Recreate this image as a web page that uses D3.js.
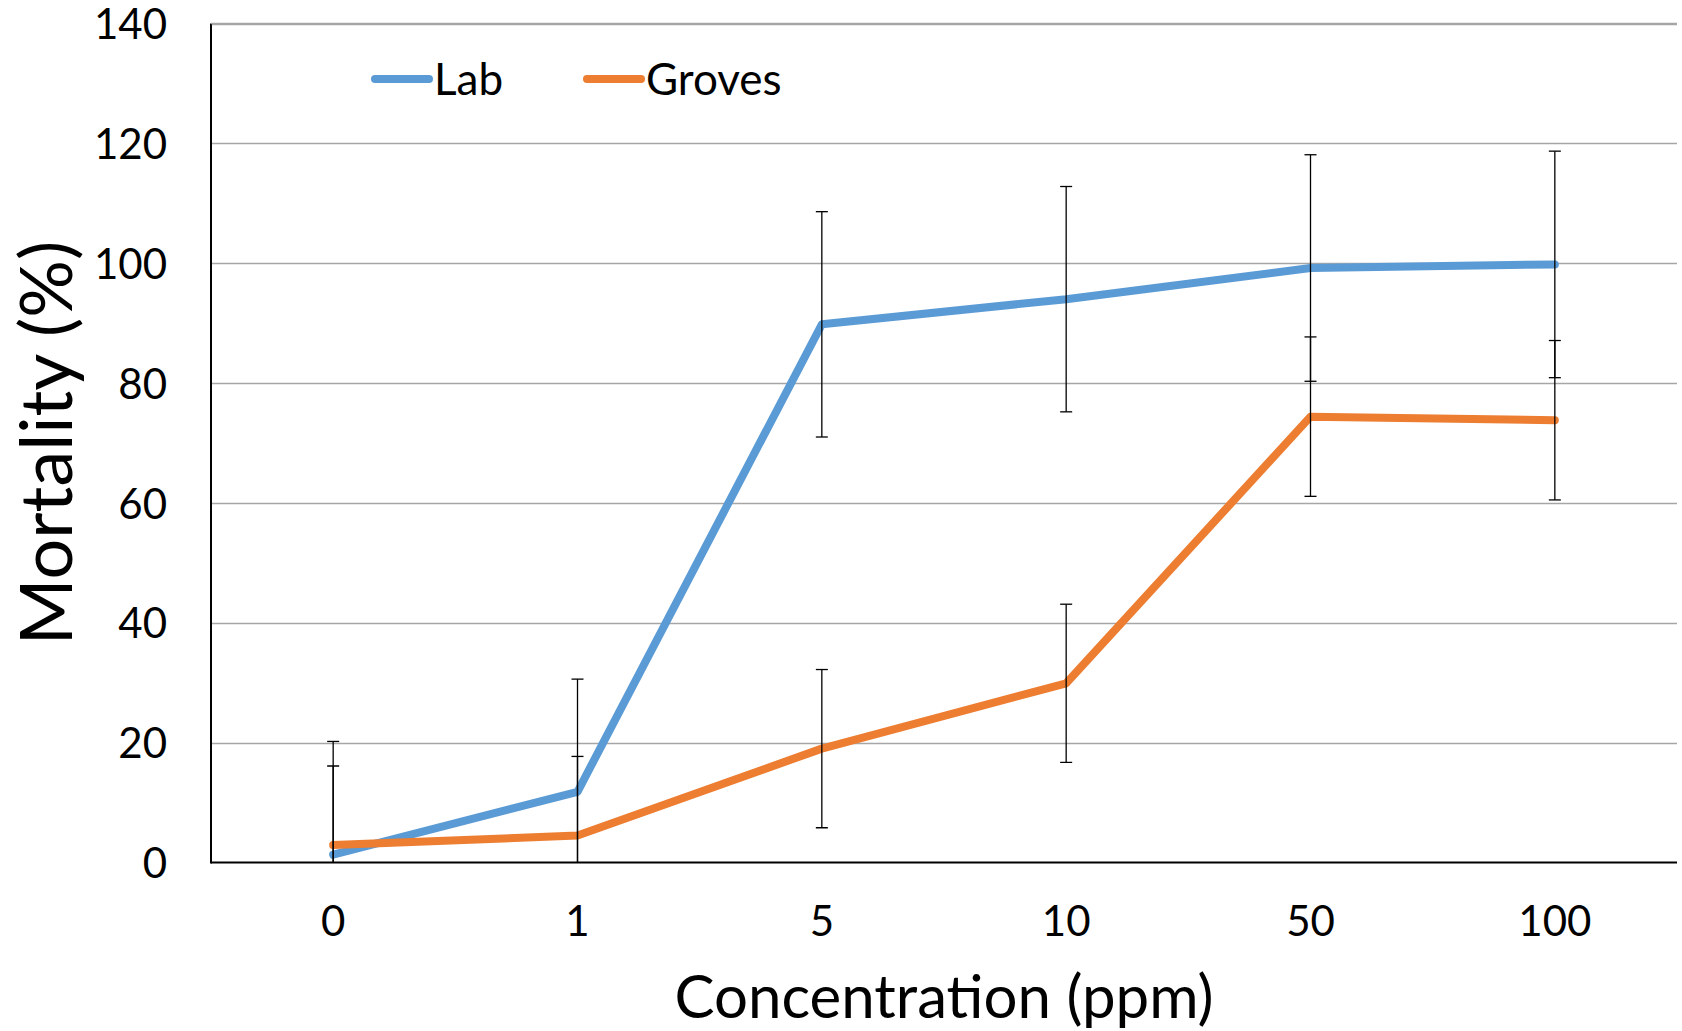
<!DOCTYPE html>
<html>
<head>
<meta charset="utf-8">
<script src="https://cdn.jsdelivr.net/npm/d3@7/dist/d3.min.js"></script>
<style>
html,body{margin:0;padding:0;background:#fff;}
svg{display:block;}
text{font-family:Lato,"Open Sans",sans-serif;fill:#000;}
</style>
</head>
<body>
<svg id="chart" width="1682" height="1031"></svg>
<script>
const categories = ["0", "1", "5", "10", "50", "100"];
const labValues = [1.3, 11.8, 89.8, 94.0, 99.2, 99.8];
const labErrors = [18.9, 18.8, 18.8, 18.8, 18.9, 18.9];
const grovesValues = [2.9, 4.5, 19.0, 29.9, 74.4, 73.8];
const grovesErrors = [13.2, 13.2, 13.2, 13.2, 13.3, 13.3];
const yTicks = [0, 20, 40, 60, 80, 100, 120, 140];
const seriesNames = ["Lab", "Groves"];

const colors = ["#5B9BD5", "#ED7D31"];
const series = [
  {name: seriesNames[0], values: labValues, errors: labErrors, color: colors[0]},
  {name: seriesNames[1], values: grovesValues, errors: grovesErrors, color: colors[1]}
];

const svg = d3.select("#chart");
const m = {left: 211, right: 1677, top: 23.5, bottom: 862.5};

const x = d3.scaleBand().domain(categories).range([m.left, m.right]).paddingInner(0).paddingOuter(0);
const y = d3.scaleLinear().domain([0, 140]).range([m.bottom, m.top]);
const cx = c => x(c) + x.bandwidth() / 2;

// gridlines
svg.append("g").selectAll("line").data(yTicks.filter(t => t > 0)).join("line")
  .attr("x1", m.left).attr("x2", m.right)
  .attr("y1", d => Math.round(y(d)) + 0.5).attr("y2", d => Math.round(y(d)) + 0.5)
  .attr("stroke", "#a6a6a6").attr("stroke-width", 1.3);

// y axis labels
const yAxis = d3.axisLeft(y).tickValues(yTicks).tickSize(0).tickPadding(44);
const gy = svg.append("g").attr("transform", `translate(${m.left},0)`).call(yAxis);
gy.select(".domain").remove();
gy.selectAll("text").attr("font-size", 42).attr("font-family", "Lato").attr("fill", "#000").attr("dy", "0.36em");

// x axis labels
const xAxis = d3.axisBottom(x).tickSize(0).tickPadding(44);
const gx = svg.append("g").attr("transform", `translate(0,${m.bottom})`).call(xAxis);
gx.select(".domain").remove();
gx.selectAll("text").attr("font-size", 42).attr("font-family", "Lato").attr("fill", "#000");

// clip path for plot area
svg.append("clipPath").attr("id", "plotclip").append("rect")
  .attr("x", m.left).attr("y", 0).attr("width", m.right - m.left).attr("height", m.bottom);

const plot = svg.append("g").attr("clip-path", "url(#plotclip)");

const line = d3.line().x((d, i) => cx(categories[i])).y(d => y(d));

series.forEach(s => {
  plot.append("path").datum(s.values)
    .attr("d", line).attr("fill", "none")
    .attr("stroke", s.color).attr("stroke-width", 8)
    .attr("stroke-linejoin", "round").attr("stroke-linecap", "round");
});

// error bars
series.forEach(s => {
  const g = plot.append("g").attr("stroke", "#000").attr("stroke-width", 1.3);
  s.values.forEach((v, i) => {
    const px = cx(categories[i]);
    const top = y(v + s.errors[i]);
    const bot = y(v - s.errors[i]);
    g.append("line").attr("x1", px).attr("x2", px).attr("y1", top).attr("y2", bot);
    g.append("line").attr("x1", px - 6).attr("x2", px + 6).attr("y1", top).attr("y2", top);
    g.append("line").attr("x1", px - 6).attr("x2", px + 6).attr("y1", bot).attr("y2", bot);
  });
});

// axes lines
svg.append("line").attr("x1", m.left).attr("x2", m.left).attr("y1", m.top).attr("y2", m.bottom + 1)
  .attr("stroke", "#000").attr("stroke-width", 2);
svg.append("line").attr("x1", m.left).attr("x2", m.right).attr("y1", m.bottom).attr("y2", m.bottom)
  .attr("stroke", "#000").attr("stroke-width", 2);
svg.append("line").attr("x1", m.left).attr("x2", m.right).attr("y1", m.top).attr("y2", m.top)
  .attr("stroke", "#a6a6a6").attr("stroke-width", 1.3);

// legend
const legendX = [375, 587];
series.forEach((s, i) => {
  const g = svg.append("g").attr("transform", `translate(${legendX[i]},79)`);
  g.append("line").attr("x1", 0).attr("x2", 54).attr("y1", 0).attr("y2", 0)
    .attr("stroke", s.color).attr("stroke-width", 8).attr("stroke-linecap", "round");
  g.append("text").attr("x", 59).attr("y", 0).attr("dy", "0.36em")
    .attr("font-size", 44).text(s.name);
});

// axis titles
svg.append("text").attr("x", (m.left + m.right) / 2).attr("y", 1018)
  .attr("text-anchor", "middle").attr("font-size", 60).text("Concentration (ppm)");
svg.append("text").attr("transform", `translate(72,${(m.top + m.bottom) / 2}) rotate(-90)`)
  .attr("text-anchor", "middle").attr("font-size", 72).text("Mortality (%)");
</script>
</body>
</html>
